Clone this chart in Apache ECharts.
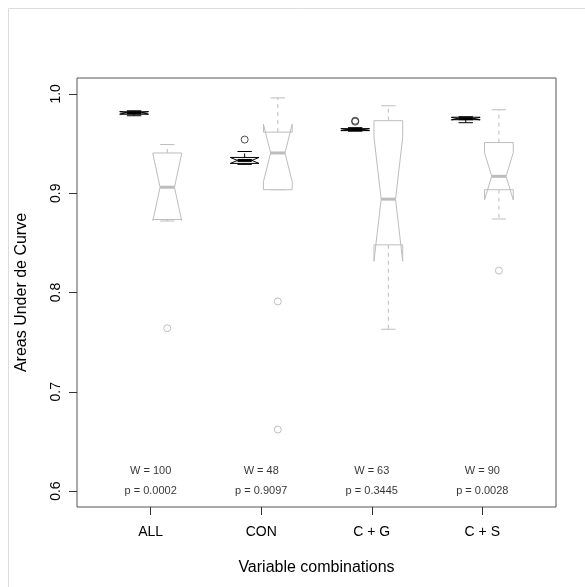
<!DOCTYPE html>
<html><head><meta charset="utf-8">
<script src="https://cdn.jsdelivr.net/npm/echarts@6/dist/echarts.min.js"></script>
<style>html,body{margin:0;padding:0;background:#fff}#c{width:585px;height:587px}</style>
</head><body><div id="c"></div>
<script>
// ---- data ----
const categories = ['ALL', 'CON', 'C + G', 'C + S'];
const catPos = [1, 2, 3, 4];
const yTicks = [0.6, 0.7, 0.8, 0.9, 1.0];
// five-number summaries: [min, q1, median, q3, max]
const blackStats = [
  [0.978, 0.9795, 0.981, 0.982, 0.983],
  [0.929, 0.930, 0.933, 0.936, 0.942],
  [0.9625, 0.963, 0.964, 0.965, 0.966],
  [0.971, 0.974, 0.975, 0.9765, 0.977]
];
const grayStats = [
  [0.872, 0.8735, 0.906, 0.9405, 0.949],
  [0.9035, 0.9035, 0.9405, 0.9615, 0.996],
  [0.763, 0.848, 0.894, 0.973, 0.988],
  [0.874, 0.9035, 0.917, 0.951, 0.984]
];
const blackOutliers = [[], [0.954], [0.972, 0.973], []];
const grayOutliers = [[0.764], [0.791, 0.662], [], [0.822]];
const wLabels = ['W = 100', 'W = 48', 'W = 63', 'W = 90'];
const pLabels = ['p = 0.0002', 'p = 0.9097', 'p = 0.3445', 'p = 0.0028'];
const nPerGroup = 10;

// ---- style constants ----
const OFFSET = 0.15, HALF = 0.13;
const BLACK = '#000', GRAY = '#bdbdbd';

function boxRender(color) {
  return function (params, api) {
    const x = api.value(0), mn = api.value(1), q1 = api.value(2), md = api.value(3), q3 = api.value(4), mx = api.value(5);
    const w = HALF;
    const d = 1.58 * (q3 - q1) / Math.sqrt(nPerGroup);
    const lo = md - d, hi = md + d;
    const P = (a, b) => api.coord([a, b]);
    const poly = [[x - w, q1], [x + w, q1], [x + w, lo], [x + w / 2, md], [x + w, hi], [x + w, q3],
                  [x - w, q3], [x - w, hi], [x - w / 2, md], [x - w, lo]].map(p => P(p[0], p[1]));
    const line = (a, b, c, e, st) => {
      const p1 = P(a, b), p2 = P(c, e);
      return { type: 'line', shape: { x1: p1[0], y1: p1[1], x2: p2[0], y2: p2[1] }, style: st };
    };
    const thin = { stroke: color, lineWidth: 1 };
    const dash = { stroke: color, lineWidth: 1, lineDash: [4, 4] };
    return {
      type: 'group',
      children: [
        line(x, q3, x, mx, dash),
        line(x, q1, x, mn, dash),
        line(x - w / 2, mx, x + w / 2, mx, thin),
        line(x - w / 2, mn, x + w / 2, mn, thin),
        { type: 'polygon', shape: { points: poly }, style: { fill: '#fff', stroke: color, lineWidth: 1 } },
        line(x - w / 2, md, x + w / 2, md, { stroke: color, lineWidth: 3 })
      ]
    };
  };
}

const blackData = blackStats.map((s, i) => [catPos[i] - OFFSET].concat(s));
const grayData = grayStats.map((s, i) => [catPos[i] + OFFSET].concat(s));
const blackOut = [], grayOut = [];
blackOutliers.forEach((arr, i) => arr.forEach(v => blackOut.push([catPos[i] - OFFSET, v])));
grayOutliers.forEach((arr, i) => arr.forEach(v => grayOut.push([catPos[i] + OFFSET, v])));
const textData = [];
wLabels.forEach((t, i) => textData.push({ value: [catPos[i], 0.62], name: t }));
pLabels.forEach((t, i) => textData.push({ value: [catPos[i], 0.60], name: t }));

const FONT = 'Liberation Sans, Arial, Helvetica, sans-serif';
const chart = echarts.init(document.getElementById('c'), null, { renderer: 'canvas' });
chart.setOption({
  animation: false,
  backgroundColor: '#fff',
  textStyle: { fontFamily: FONT },
  grid: { left: 77, right: 29, top: 78, bottom: 80, show: true, borderColor: '#555', borderWidth: 1, backgroundColor: 'transparent' },
  xAxis: {
    type: 'value', min: 1 / 3, max: 14 / 3,
    splitLine: { show: false },
    axisLine: { show: false },
    axisTick: { show: true, customValues: catPos, length: 8, lineStyle: { color: '#333' } },
    axisLabel: { customValues: catPos, formatter: v => categories[catPos.indexOf(v)], fontSize: 14, color: '#000', margin: 18, fontFamily: FONT },
    name: 'Variable combinations', nameLocation: 'middle', nameGap: 53,
    nameTextStyle: { fontSize: 16, color: '#000', fontFamily: FONT }
  },
  yAxis: {
    type: 'value', min: 0.584, max: 1.016,
    splitLine: { show: false },
    axisLine: { show: false },
    axisTick: { show: true, customValues: yTicks, length: 8, lineStyle: { color: '#333' } },
    axisLabel: { customValues: yTicks, rotate: 90, formatter: v => v.toFixed(1), fontSize: 14, color: '#000', margin: 14, fontFamily: FONT },
    name: 'Areas Under de Curve', nameLocation: 'middle', nameGap: 47, nameRotate: 90,
    nameTextStyle: { fontSize: 16, color: '#000', fontFamily: FONT }
  },
  graphic: [
    { type: 'line', shape: { x1: 8.5, y1: 8.5, x2: 585, y2: 8.5 }, style: { stroke: '#dcdcdc', lineWidth: 1 }, silent: true },
    { type: 'line', shape: { x1: 8.5, y1: 8.5, x2: 8.5, y2: 587 }, style: { stroke: '#dcdcdc', lineWidth: 1 }, silent: true }
  ],
  series: [
    { type: 'custom', renderItem: boxRender(GRAY), data: grayData, encode: { x: 0, y: [1, 2, 3, 4, 5] }, z: 2 },
    { type: 'custom', renderItem: boxRender(BLACK), data: blackData, encode: { x: 0, y: [1, 2, 3, 4, 5] }, z: 3 },
    { type: 'scatter', data: grayOut, symbol: 'circle', symbolSize: 7, itemStyle: { color: 'rgba(255,255,255,0)', borderColor: '#b0b0b0', borderWidth: 1 }, z: 4 },
    { type: 'scatter', data: blackOut, symbol: 'circle', symbolSize: 7, itemStyle: { color: 'rgba(255,255,255,0)', borderColor: '#222', borderWidth: 1 }, z: 4 },
    { type: 'scatter', data: textData, symbolSize: 0, z: 5,
      label: { show: true, position: 'inside', formatter: '{b}', fontSize: 11, color: '#000', fontFamily: FONT } }
  ]
});
</script></body></html>
